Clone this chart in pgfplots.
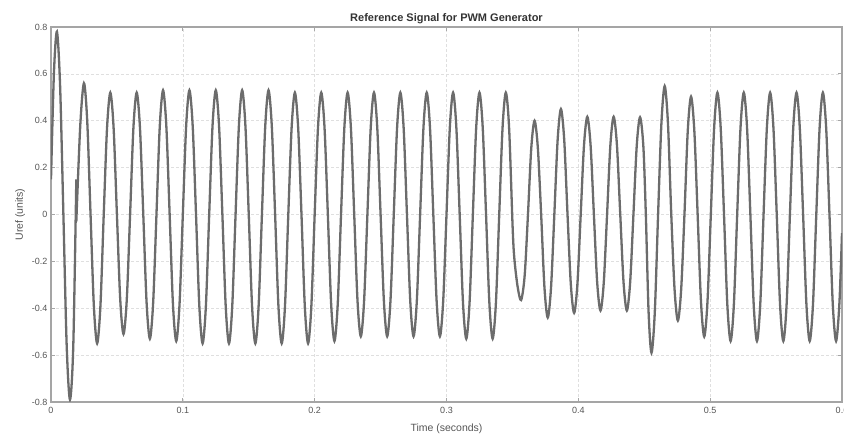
\documentclass[border=0pt]{standalone}
\usepackage{pgfplots}
\pgfplotsset{compat=1.18}
\usepackage{fontspec}
\setmainfont{Liberation Sans}
\definecolor{sig}{RGB}{108,108,108}
\definecolor{axgray}{RGB}{165,165,165}
\definecolor{txtgray}{RGB}{85,85,85}
\begin{document}
\begin{tikzpicture}
\path[use as bounding box] (-51pt,-33pt) rectangle (793pt,402pt);
\begin{axis}[
  scale only axis, width=791pt, height=375pt, at={(0,0)}, anchor=south west,
  xmin=0, xmax=0.6, ymin=-0.8, ymax=0.8,
  xtick={0,0.1,0.2,0.3,0.4,0.5,0.6},
  ytick={-0.8,-0.6,-0.4,-0.2,0,0.2,0.4,0.6,0.8},
  /pgf/number format/.cd, fixed, precision=1, assume math mode=true, /pgfplots/.cd,
  tick label style={font=\fontsize{9}{10}\selectfont, text=txtgray},
  xticklabel style={yshift=-2pt},
  label style={font=\fontsize{10.5}{12}\selectfont, text=txtgray},
  xlabel style={yshift=-3pt},
  title style={font=\bfseries\fontsize{11}{13}\selectfont, text=black!80, yshift=-6pt},
  title={Reference Signal for PWM Generator},
  xlabel={Time (seconds)}, ylabel={Uref (units)},
  grid=major,
  major grid style={draw=gray!25, dash pattern=on 3pt off 2pt, line width=0.6pt},
  axis line style={draw=axgray, line width=1.6pt},
  tick align=inside, major tick length=4pt,
  tick style={draw=gray!70, line width=0.8pt},
]
\addplot[sig, line width=2.3pt, smooth] coordinates {
(0,0.15) (0.0022,0.60) (0.0045,0.78) (0.0069,0.55) (0.0094,0) (0.0119,-0.56) (0.0144,-0.79) (0.0169,-0.56) (0.0192,0.15)
};
\addplot[sig, line width=2.3pt, smooth] coordinates {
(0.0192,-0.03) (0.0222,0.38) (0.025,0.56) (0.0275,0.396) (0.03,0)
(0.0325,-0.389) (0.035,-0.55) (0.0375,-0.389) (0.04,0)
(0.0425,0.368) (0.045,0.52) (0.0475,0.368) (0.05,0)
(0.0525,-0.361) (0.055,-0.51) (0.0575,-0.361) (0.06,0)
(0.0625,0.368) (0.065,0.52) (0.0675,0.368) (0.07,0)
(0.0725,-0.375) (0.075,-0.53) (0.0775,-0.375) (0.08,0)
(0.0825,0.375) (0.085,0.53) (0.0875,0.375) (0.09,0)
(0.0925,-0.382) (0.095,-0.54) (0.0975,-0.382) (0.10,0)
(0.1025,0.375) (0.105,0.53) (0.1075,0.375) (0.11,0)
(0.1125,-0.389) (0.115,-0.55) (0.1175,-0.389) (0.12,0)
(0.1225,0.375) (0.125,0.53) (0.1275,0.375) (0.13,0)
(0.1325,-0.389) (0.135,-0.55) (0.1375,-0.389) (0.14,0)
(0.1425,0.375) (0.145,0.53) (0.1475,0.375) (0.15,0)
(0.1525,-0.389) (0.155,-0.55) (0.1575,-0.389) (0.16,0)
(0.1625,0.375) (0.165,0.53) (0.1675,0.375) (0.17,0)
(0.1725,-0.389) (0.175,-0.55) (0.1775,-0.389) (0.18,0)
(0.1825,0.368) (0.185,0.52) (0.1875,0.368) (0.19,0)
(0.1925,-0.389) (0.195,-0.55) (0.1975,-0.389) (0.20,0)
(0.2025,0.368) (0.205,0.52) (0.2075,0.368) (0.21,0)
(0.2125,-0.382) (0.215,-0.54) (0.2175,-0.382) (0.22,0)
(0.2225,0.368) (0.225,0.52) (0.2275,0.368) (0.23,0)
(0.2325,-0.368) (0.235,-0.52) (0.2375,-0.368) (0.24,0)
(0.2425,0.368) (0.245,0.52) (0.2475,0.368) (0.25,0)
(0.2525,-0.368) (0.255,-0.52) (0.2575,-0.368) (0.26,0)
(0.2625,0.368) (0.265,0.52) (0.2675,0.368) (0.27,0)
(0.2725,-0.368) (0.275,-0.52) (0.2775,-0.368) (0.28,0)
(0.2825,0.368) (0.285,0.52) (0.2875,0.368) (0.29,0)
(0.2925,-0.368) (0.295,-0.52) (0.2975,-0.368) (0.30,0)
(0.3025,0.368) (0.305,0.52) (0.3075,0.368) (0.31,0)
(0.3125,-0.375) (0.315,-0.53) (0.3175,-0.375) (0.32,0)
(0.3225,0.368) (0.325,0.52) (0.3275,0.368) (0.33,0)
(0.3325,-0.375) (0.335,-0.53) (0.3375,-0.375) (0.34,0)
(0.3425,0.368) (0.345,0.52) (0.3475,0.368)
(0.3502,-0.06) (0.3515,-0.19) (0.3540,-0.31) (0.3566,-0.365) (0.3593,-0.26) (0.3618,0)
(0.3643,0.283) (0.3668,0.40) (0.3693,0.283) (0.3718,0)
(0.3743,-0.311) (0.3768,-0.44) (0.3793,-0.311) (0.3818,0)
(0.3843,0.318) (0.3868,0.45) (0.3893,0.318) (0.3918,0)
(0.3943,-0.297) (0.3968,-0.42) (0.3993,-0.297) (0.4018,0)
(0.4043,0.295) (0.4068,0.417) (0.4093,0.295) (0.4118,0)
(0.4143,-0.290) (0.4168,-0.41) (0.4193,-0.290) (0.4218,0)
(0.4243,0.295) (0.4268,0.417) (0.4293,0.295) (0.4318,0)
(0.4343,-0.290) (0.4368,-0.41) (0.4393,-0.290) (0.4418,0)
(0.4443,0.293) (0.4468,0.415) (0.4493,0.293) (0.4512,0)
(0.4533,-0.417) (0.4555,-0.59) (0.4580,-0.417) (0.4605,0)
(0.4630,0.387) (0.4655,0.548) (0.4680,0.387) (0.4705,0)
(0.4730,-0.320) (0.4755,-0.453) (0.4780,-0.320) (0.4805,0)
(0.4830,0.356) (0.4855,0.503) (0.4880,0.356) (0.4905,0)
(0.4930,-0.368) (0.4955,-0.521) (0.4980,-0.368) (0.5005,0)
(0.5030,0.368) (0.5055,0.52) (0.5080,0.368) (0.5105,0)
(0.5130,-0.382) (0.5155,-0.54) (0.5180,-0.382) (0.5205,0)
(0.5230,0.368) (0.5255,0.52) (0.5280,0.368) (0.5305,0)
(0.5330,-0.382) (0.5355,-0.54) (0.5380,-0.382) (0.5405,0)
(0.5430,0.368) (0.5455,0.52) (0.5480,0.368) (0.5505,0)
(0.5530,-0.382) (0.5555,-0.54) (0.5580,-0.382) (0.5605,0)
(0.5630,0.368) (0.5655,0.52) (0.5680,0.368) (0.5705,0)
(0.5730,-0.382) (0.5755,-0.54) (0.5780,-0.382) (0.5805,0)
(0.5830,0.368) (0.5855,0.52) (0.5880,0.368) (0.5905,0)
(0.5930,-0.382) (0.5955,-0.54) (0.5980,-0.382) (0.6000,-0.08)
};
\end{axis}
\end{tikzpicture}
\end{document}
